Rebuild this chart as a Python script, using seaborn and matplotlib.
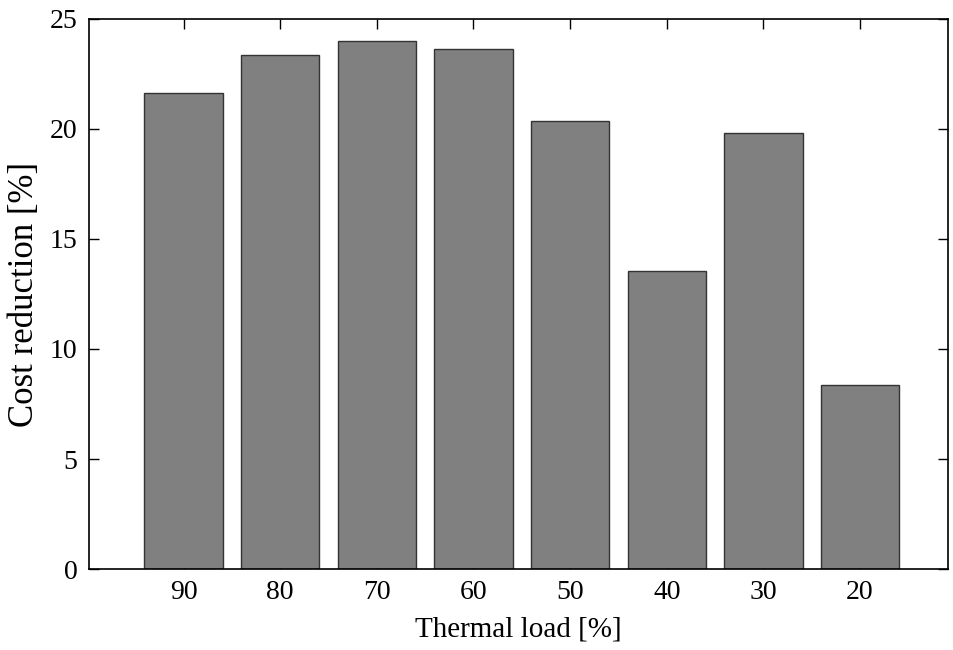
import matplotlib
matplotlib.use("Agg")
import matplotlib.pyplot as plt
import seaborn as sns
import pandas as pd

# data
loads = ["90", "80", "70", "60", "50", "40", "30", "20"]
reduction = [21.65, 23.36, 24.0, 23.64, 20.36, 13.55, 19.8, 8.36]

sns.set_theme(style="white")
plt.rcParams['font.family'] = ['Liberation Serif', 'DejaVu Serif']

df = pd.DataFrame({'load': loads, 'reduction': reduction})

fig = plt.figure(figsize=(9.54, 6.5), dpi=100)
ax = fig.add_axes([0.0928, 0.1246, 0.9009, 0.8462])
sns.barplot(data=df, x='load', y='reduction', order=loads, color='#808080',
            saturation=1, width=0.81, edgecolor='#333333', linewidth=1, ax=ax)

ax.set_xlim(-0.983, 7.91)
ax.set_ylim(0, 25)
ax.set_yticks([0, 5, 10, 15, 20, 25])
ax.set_xlabel('Thermal load [%]', fontsize=21, labelpad=8, color='black')
ax.set_ylabel('Cost reduction [%]', fontsize=25, labelpad=6, color='black')
ax.tick_params(axis='both', direction='in', length=7, width=1, labelsize=20,
               top=True, right=True, bottom=True, left=True, colors='black', pad=8)
for s in ax.spines.values():
    s.set_visible(True)
    s.set_color('black')
    s.set_linewidth(1.2)

fig.savefig('out.png', dpi=100)
